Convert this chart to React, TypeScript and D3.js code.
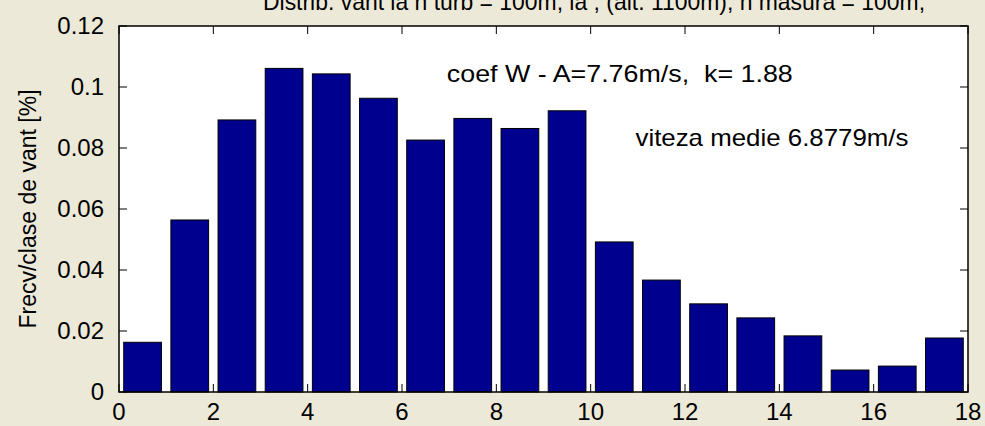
import React from 'react';
import * as d3 from 'd3';

// wind speed class (left edge of 1 m/s bin) and relative frequency
const speedBins = [0, 1, 2, 3, 4, 5, 6, 7, 8, 9, 10, 11, 12, 13, 14, 15, 16, 17];
const frequency = [
  0.0163, 0.0564, 0.0892, 0.1061, 0.1043, 0.0963, 0.0826, 0.0897, 0.0864,
  0.0922, 0.0492, 0.0367, 0.0289, 0.0243, 0.0184, 0.0072, 0.0085, 0.0177,
];
const xTicks = [0, 2, 4, 6, 8, 10, 12, 14, 16, 18];
const yTicks = [0, 0.02, 0.04, 0.06, 0.08, 0.1, 0.12];

const titleText = 'Distrib. vant la h turb = 100m, la , (alt. 1100m), h masura = 100m,';
const yLabel = 'Frecv/clase de vant [%]';
const weibullText = 'coef W - A=7.76m/s,\u00a0 k= 1.88';
const meanText = 'viteza medie 6.8779m/s';

const W = 985;
const H = 426;
const margin = { top: 26, right: 17, bottom: 34, left: 119 };
const font = 'Arial, "Liberation Sans", Helvetica, sans-serif';
const barColor = '#00008f';
const tickLen = 8;

export default function App() {
  const x = d3.scaleLinear().domain([0, 18]).range([margin.left, W - margin.right]);
  const y = d3.scaleLinear().domain([0, 0.12]).range([H - margin.bottom, margin.top]);
  const barW = x(0.8) - x(0);

  const x0 = x.range()[0];
  const x1 = x.range()[1];
  const y0 = y.range()[0];
  const y1 = y.range()[1];

  return (
    <svg
      width={W}
      height={H}
      style={{ position: 'absolute', left: 0, top: 0, display: 'block' }}
      fontFamily={font}
    >
      <rect width={W} height={H} fill="#ece9d8" />
      <rect x={x0} y={y1} width={x1 - x0} height={y0 - y1} fill="#ffffff" />

      {/* bars */}
      {frequency.map((v, i) => (
        <rect
          key={i}
          x={x(speedBins[i] + 0.5) - barW / 2}
          y={y(v)}
          width={barW}
          height={y(0) - y(v)}
          fill={barColor}
          stroke="#000"
          strokeWidth={1}
        />
      ))}

      {/* ticks, inside on all four sides */}
      {xTicks.map((t) => (
        <g key={'x' + t}>
          <line x1={x(t)} x2={x(t)} y1={y0} y2={y0 - tickLen} stroke="#000" />
          <line x1={x(t)} x2={x(t)} y1={y1} y2={y1 + tickLen} stroke="#000" />
          <text x={x(t)} y={420} textAnchor="middle" fontSize={24} fill="#000">
            {t}
          </text>
        </g>
      ))}
      {yTicks.map((t) => (
        <g key={'y' + t}>
          <line x1={x0} x2={x0 + tickLen} y1={y(t)} y2={y(t)} stroke="#000" />
          <line x1={x1} x2={x1 - tickLen} y1={y(t)} y2={y(t)} stroke="#000" />
          <text
            x={x0 - 15}
            y={y(t)}
            dy="0.35em"
            textAnchor="end"
            fontSize={24}
            fill="#000"
          >
            {t}
          </text>
        </g>
      ))}

      <rect x={x0} y={y1} width={x1 - x0} height={y0 - y1} fill="none" stroke="#000" strokeWidth={1.5} />

      {/* annotations */}
      <text
        x={x(6.95)}
        y={y(0.1045)}
        dy="0.35em"
        fontSize={24}
        fill="#000"
        textLength={346}
        lengthAdjust="spacingAndGlyphs"
      >
        {weibullText}
      </text>
      <text
        x={x(10.95)}
        y={y(0.0835)}
        dy="0.35em"
        fontSize={24}
        fill="#000"
        textLength={273}
        lengthAdjust="spacingAndGlyphs"
      >
        {meanText}
      </text>

      <text
        transform={`translate(36,${(y0 + y1) / 2}) rotate(-90)`}
        textAnchor="middle"
        fontSize={23}
        fill="#000"
      >
        {yLabel}
      </text>

      <text x={263} y={10} fontSize={24} fill="#000" textLength={662} lengthAdjust="spacingAndGlyphs">
        {titleText}
      </text>
    </svg>
  );
}
